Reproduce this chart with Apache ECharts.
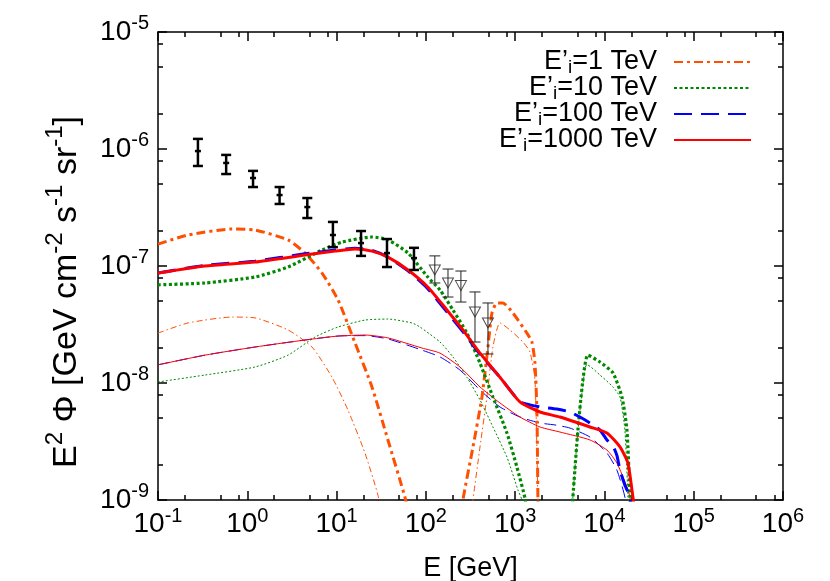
<!DOCTYPE html>
<html><head><meta charset="utf-8">
<script src="https://cdn.jsdelivr.net/npm/echarts@6/dist/echarts.min.js"></script>
<style>html,body{margin:0;padding:0;background:#fff}#c{width:830px;height:581px}</style>
</head><body><div id="c"></div>
<script>
const FONT = '"Liberation Sans", Arial, Helvetica, sans-serif';

// axis ticks
const xTickExponents = [-1, 0, 1, 2, 3, 4, 5, 6];
const yTickExponents = [-9, -8, -7, -6, -5];
const minorTickFactors = [2, 5, 8];

// legend names
const seriesNames = ['E’i=1 TeV', 'E’i=10 TeV', 'E’i=100 TeV', 'E’i=1000 TeV'];

// E'i = 1 TeV  (thick, thin) : [E (GeV), E^2 Phi]
const thick1TeV_a = [[0.1,1.54e-7],[0.217,1.84e-7],[0.675,2.07e-7],[1.22,2.03e-7],[2.86,1.67e-7],[4.43,1.29e-7],[6.87,8.71e-8],[10.4,5.12e-8],[16.1,2.2e-8],[24.9,9.25e-9],[37.6,3.26e-9],[58.3,1.06e-9],[63.1,8e-10]];
const thick1TeV_b = [[250,7e-10],[260,1.0e-9],[337,2.84e-9],[425,7.59e-9],[496,2.03e-8],[550,3.96e-8],[625,4.83e-8],[730,4.83e-8],[944,3.96e-8],[1355,2.67e-8],[1542,2.24e-8],[1667,1.48e-8],[1754,5.55e-9],[1799,1.0e-9],[1810,7e-10]];
const thin1TeV_a = [[0.1,2.67e-8],[0.217,3.26e-8],[0.675,3.66e-8],[1.22,3.6e-8],[2.86,2.84e-8],[5.3,2.03e-8],[8.89,1.12e-8],[13.4,5.88e-9],[20.8,2.52e-9],[29.1,1.1e-9],[31,8e-10]];
const thin1TeV_b = [[320,7e-10],[337,1.0e-9],[404,2.84e-9],[483,7.59e-9],[564,2.03e-8],[676,3.26e-8],[875,2.84e-8],[1222,2.24e-8],[1465,1.84e-8],[1667,1.06e-8],[1799,1.0e-9],[1810,7e-10]];

// E'i = 10 TeV
const thick10TeV_a = [[0.1,6.9e-8],[0.336,7.16e-8],[1.22,8.05e-8],[2.86,9.8e-8],[6.87,1.37e-7],[11.5,1.6e-7],[24.9,1.77e-7],[37.6,1.67e-7],[63.1,1.29e-7],[105,8.05e-8],[144,6.24e-8],[201,4.21e-8],[288,2.67e-8],[404,1.48e-8],[564,7.59e-9],[809,3.74e-9],[1047,1.91e-9],[1288,1.04e-9],[1350,8e-10]];
const thick10TeV_b = [[4300,7e-10],[4436,1.06e-9],[5047,3.96e-9],[5741,1.06e-8],[6531,1.73e-8],[8913,1.51e-8],[12450,1.22e-8],[15700,7.59e-9],[17860,3.96e-9],[19310,1.06e-9],[19500,7e-10]];
const thin10TeV_a = [[0.1,1.02e-8],[0.336,1.17e-8],[1.22,1.37e-8],[2.86,1.73e-8],[5.73,2.47e-8],[10.4,3.01e-8],[20.8,3.45e-8],[37.6,3.52e-8],[69.8,3.26e-8],[85.9,3.01e-8],[144,2.24e-8],[201,1.67e-8],[288,1.12e-8],[404,7.16e-9],[564,4.21e-9],[809,2.33e-9],[1074,1.22e-9],[1191,1.0e-9],[1250,7e-10]];
const thin10TeV_b = [[4300,7e-10],[4436,1.06e-9],[5047,3.96e-9],[6053,1.34e-8],[6368,1.43e-8],[8913,1.17e-8],[12450,9.25e-9],[14930,7.59e-9],[16950,3.96e-9],[18320,1.06e-9],[18500,7e-10]];

// E'i = 100 TeV
const thick100TeV = [[0.1,8.7e-8],[0.336,1.01e-7],[1.22,1.1e-7],[4.43,1.27e-7],[9.6,1.37e-7],[16.1,1.42e-7],[24.9,1.36e-7],[37.6,1.19e-7],[63.1,9.1e-8],[105,6.4e-8],[172,4.05e-8],[260,2.75e-8],[404,1.76e-8],[676,1.12e-8],[1132,6.9e-9],[1465,6.5e-9],[1897,6.24e-9],[2938,6.0e-9],[4111,5.65e-9],[5318,5.12e-9],[6887,4.55e-9],[8913,3.96e-9],[10670,3.26e-9],[12450,2.9e-9],[13800,2.4e-9],[14930,1.8e-9],[16950,1.34e-9],[19310,1.06e-9],[20500,7e-10]];
const thin100TeV = [[0.1,1.43e-8],[0.336,1.73e-8],[1.22,2.03e-8],[4.43,2.33e-8],[10.4,2.52e-8],[20.8,2.54e-8],[37.6,2.38e-8],[90.4,1.91e-8],[144,1.67e-8],[241,1.29e-8],[404,8.71e-9],[676,6.24e-9],[1132,5.12e-9],[1897,4.55e-9],[2793,4.38e-9],[4111,4.12e-9],[6887,3.45e-9],[10670,2.52e-9],[13800,1.8e-9],[16950,1.06e-9],[18000,7e-10]];

// E'i = 1000 TeV
const thick1000TeV = [[0.1,8.7e-8],[0.336,1.0e-7],[1.22,1.08e-7],[4.43,1.24e-7],[9.6,1.34e-7],[16.1,1.4e-7],[24.9,1.34e-7],[37.6,1.19e-7],[63.1,9.25e-8],[105,6.62e-8],[172,4.21e-8],[260,2.84e-8],[404,1.8e-8],[676,1.12e-8],[1132,6.89e-9],[1897,5.65e-9],[3177,5.12e-9],[6887,4.21e-9],[10670,3.74e-9],[14930,2.84e-9],[18320,2.07e-9],[20840,1.06e-9],[21930,8e-10]];
const thin1000TeV = [[0.1,1.43e-8],[0.336,1.73e-8],[1.22,2.03e-8],[4.43,2.33e-8],[10.4,2.52e-8],[20.8,2.57e-8],[37.6,2.43e-8],[90.4,1.99e-8],[144,1.8e-8],[241,1.37e-8],[404,9.25e-9],[676,6.75e-9],[1132,5.12e-9],[1897,4.21e-9],[3177,3.81e-9],[6887,3.26e-9],[10670,2.67e-9],[13800,2.07e-9],[17860,1.29e-9],[19310,1.06e-9],[20500,7e-10]];

// measured points (black, error bars)
const dataE    = [0.28, 0.58, 1.16, 2.3, 4.7, 9.1, 18.8, 36.7, 73.6];
const dataFlux = [9.6e-7, 7.6e-7, 5.65e-7, 4.04e-7, 3.19e-7, 1.84e-7, 1.57e-7, 1.29e-7, 1.17e-7];
const dataHi   = [1.22e-6, 8.9e-7, 6.5e-7, 4.73e-7, 3.81e-7, 2.38e-7, 1.99e-7, 1.7e-7, 1.43e-7];
const dataLo   = [7.16e-7, 6.11e-7, 4.73e-7, 3.39e-7, 2.57e-7, 1.45e-7, 1.22e-7, 9.8e-8, 9.25e-8];

// high-energy points (gray, triangles)
const hePointE    = [126, 177, 247, 355, 496];
const hePointFlux = [9.25e-8, 7.16e-8, 6.8e-8, 4.05e-8, 3.26e-8];
const hePointHi   = [1.22e-7, 9.42e-8, 9.06e-8, 6.0e-8, 4.83e-8];
const hePointLo   = [7.16e-8, 5.43e-8, 4.92e-8, 2.24e-8, 1.77e-8];

const C_ORANGE = '#ff4f00', C_GREEN = '#008800', C_BLUE = '#0000ff', C_RED = '#ff0000';
const DASH_DOT_THICK = [9, 4, 3, 4], DASH_DOT_THIN = [6, 3, 1.5, 3];
const DOT_THICK = [3, 2.5], DOT_THIN = [2, 2];
const DASH_THICK = [18, 9], DASH_THIN = [12, 6];

function line(name, data, color, width, dash, z) {
  return {
    type: 'line', name: name, data: data, symbol: 'none', showSymbol: false,
    smooth: 0.2, clip: true, z: z,
    lineStyle: { color: color, width: width, type: dash },
    itemStyle: { color: color }, emphasis: { disabled: true }
  };
}

function errorBars(color, lw, capHalf, centerHalf) {
  return function (params, api) {
    const e = api.value(0);
    const lo = api.coord([e, api.value(1)]);
    const hi = api.coord([e, api.value(2)]);
    const c = api.coord([e, api.value(3)]);
    const style = { stroke: color, lineWidth: lw };
    const ch = [
      { type: 'line', shape: { x1: hi[0], y1: hi[1], x2: lo[0], y2: lo[1] }, style: style },
      { type: 'line', shape: { x1: hi[0] - capHalf, y1: hi[1], x2: hi[0] + capHalf, y2: hi[1] }, style: style },
      { type: 'line', shape: { x1: lo[0] - capHalf, y1: lo[1], x2: lo[0] + capHalf, y2: lo[1] }, style: style }
    ];
    if (centerHalf) ch.push({ type: 'line', shape: { x1: c[0] - centerHalf, y1: c[1], x2: c[0] + centerHalf, y2: c[1] }, style: style });
    return { type: 'group', children: ch };
  };
}

const minorX = xTickExponents.slice(0, -1).flatMap(k => minorTickFactors.map(m => k + Math.log10(m)));
const minorY = yTickExponents.slice(0, -1).flatMap(k => minorTickFactors.map(m => k + Math.log10(m)));

const AXIS_LINE = { show: true, onZero: false, lineStyle: { color: '#000', width: 1.5 } };
const NO_LINE = { show: false, onZero: false };
function majorTick(len) { return { show: true, inside: true, length: len, lineStyle: { color: '#000', width: 1.5 } }; }

const supRich = {
  b: { fontFamily: FONT, fontSize: 28, lineHeight: 37, color: '#000' },
  sup: { fontFamily: FONT, fontSize: 20, lineHeight: 20, verticalAlign: 'top', color: '#000' }
};
const powLabel = v => '{b|10}{sup|' + Math.round(Math.log10(v)) + '}';

function helperX(pos, ticks, len, showLine) {
  return { type: 'value', position: pos, min: -1, max: 6, gridIndex: 0,
    axisLine: showLine ? AXIS_LINE : NO_LINE,
    axisTick: Object.assign(majorTick(len), { customValues: ticks }),
    axisLabel: { show: false }, splitLine: { show: false } };
}
function helperY(pos, ticks, len, showLine) {
  return { type: 'value', position: pos, min: -9, max: -5, gridIndex: 0,
    axisLine: showLine ? AXIS_LINE : NO_LINE,
    axisTick: Object.assign(majorTick(len), { customValues: ticks }),
    axisLabel: { show: false }, splitLine: { show: false } };
}

const chart = echarts.init(document.getElementById('c'), null, { renderer: 'canvas' });
chart.setOption({
  animation: false,
  backgroundColor: '#fff',
  grid: { left: 158, right: 47, top: 32, bottom: 81, containLabel: false, outerBoundsMode: 'none' },
  legend: {
    data: seriesNames, orient: 'vertical', right: 73, top: 42, align: 'right',
    itemWidth: 77, itemHeight: 14, itemGap: -4, selectedMode: false,
    itemStyle: { opacity: 0 },
    formatter: n => n.replace('’i', '’{sub|i}'),
    textStyle: {
      fontFamily: FONT, fontSize: 27, color: '#000', lineHeight: 30, padding: [0, 12, 0, 0],
      rich: {
        sub: { fontFamily: FONT, fontSize: 19, lineHeight: 19, verticalAlign: 'bottom', color: '#000' }
      }
    }
  },
  xAxis: [
    { type: 'log', logBase: 10, min: 0.1, max: 1e6, position: 'bottom',
      axisLine: AXIS_LINE, axisTick: majorTick(9), splitLine: { show: false },
      axisLabel: { interval: 0, margin: 6, formatter: powLabel, rich: supRich },
      name: 'E [GeV]', nameLocation: 'middle', nameGap: 55,
      nameTextStyle: { fontFamily: FONT, fontSize: 27, color: '#000' } },
    helperX('bottom', minorX, 5, false),
    helperX('top', xTickExponents, 9, true),
    helperX('top', minorX, 5, false)
  ],
  yAxis: [
    { type: 'log', logBase: 10, min: 1e-9, max: 1e-5, position: 'left',
      axisLine: AXIS_LINE, axisTick: majorTick(9), splitLine: { show: false },
      axisLabel: { interval: 0, margin: 9, formatter: powLabel, rich: supRich },
      name: 'E{sup|2} Φ [GeV cm{sup|-2} s{sup|-1} sr{sup|-1}]', nameLocation: 'middle', nameGap: 61, nameRotate: 90,
      nameTextStyle: { fontFamily: FONT, fontSize: 34, color: '#000', lineHeight: 46, padding: [0, 52, 0, 0],
        rich: { sup: { fontFamily: FONT, fontSize: 24, lineHeight: 24, verticalAlign: 'top', color: '#000' } } } },
    helperY('left', minorY, 5, false),
    helperY('right', yTickExponents, 9, true),
    helperY('right', minorY, 5, false)
  ],
  series: [
    line(seriesNames[0], thick1TeV_a, C_ORANGE, 3, DASH_DOT_THICK, 3),
    line(seriesNames[0], thick1TeV_b, C_ORANGE, 3, DASH_DOT_THICK, 3),
    line(seriesNames[1], thick10TeV_a, C_GREEN, 3.2, DOT_THICK, 3),
    line(seriesNames[1], thick10TeV_b, C_GREEN, 3.2, DOT_THICK, 3),
    line(seriesNames[2], thick100TeV, C_BLUE, 3, DASH_THICK, 4),
    line(seriesNames[3], thick1000TeV, C_RED, 3, 'solid', 5),
    line('thin1', thin1TeV_a, C_ORANGE, 1, DASH_DOT_THIN, 2),
    line('thin1', thin1TeV_b, C_ORANGE, 1, DASH_DOT_THIN, 2),
    line('thin10', thin10TeV_a, C_GREEN, 1, DOT_THIN, 2),
    line('thin10', thin10TeV_b, C_GREEN, 1, DOT_THIN, 2),
    line('thin100', thin100TeV, C_BLUE, 1, DASH_THIN, 2),
    line('thin1000', thin1000TeV, C_RED, 1, 'solid', 2),
    { type: 'custom', name: 'data', z: 6, clip: true,
      renderItem: errorBars('#000', 2.5, 5, 3),
      encode: { x: 0, y: [1, 2] },
      data: dataE.map((e, i) => [e, dataLo[i], dataHi[i], dataFlux[i]]) },
    { type: 'custom', name: 'hePoints', z: 6, clip: true,
      renderItem: errorBars('#222', 1, 5.5, 0),
      encode: { x: 0, y: [1, 2] },
      data: hePointE.map((e, i) => [e, hePointLo[i], hePointHi[i], hePointFlux[i]]) },
    { type: 'scatter', name: 'heTri', z: 7, symbol: 'triangle', symbolRotate: 180, symbolSize: [11, 10],
      itemStyle: { color: 'rgba(255,255,255,0)', borderColor: '#222', borderWidth: 1 },
      data: hePointE.map((e, i) => [e, hePointFlux[i]]) }
  ]
});
</script>
</body></html>
